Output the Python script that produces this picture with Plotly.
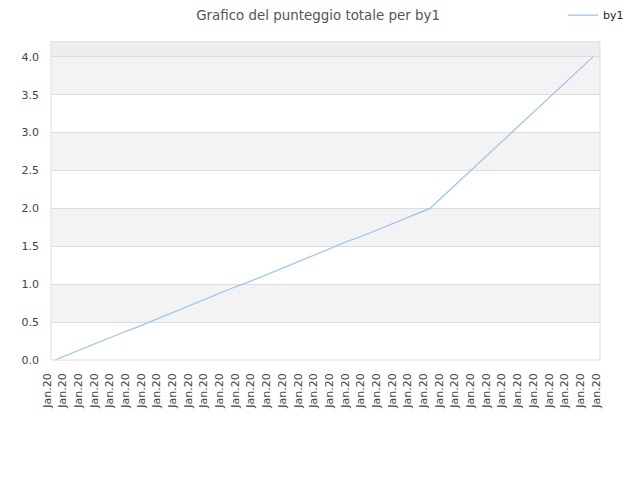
import numpy as np
import plotly.graph_objects as go

# Dati
punteggio = [0.0, 0.09, 0.17, 0.26, 0.35, 0.43, 0.52, 0.61, 0.70, 0.78,
             0.87, 0.96, 1.04, 1.13, 1.22, 1.30, 1.39, 1.48, 1.57, 1.65,
             1.74, 1.83, 1.91, 2.0, 2.2, 2.4, 2.6, 2.8, 3.0, 3.2,
             3.4, 3.6, 3.8, 4.0]
indice = list(range(len(punteggio)))
etichette_x = ["Jan.20"] * 36
tick_y = [0.0, 0.5, 1.0, 1.5, 2.0, 2.5, 3.0, 3.5, 4.0]

x_min, x_max = -0.245, 33.43
y_max = 4.2

fig = go.Figure()
fig.add_trace(go.Scatter(x=indice, y=punteggio, mode='lines', name='by1',
                         line=dict(color='#96c4f2', width=1.2)))

# Bande alternate dello sfondo
bande = []
for i, y0 in enumerate(tick_y[:-1]):
    if i % 2 == 1:
        bande.append(dict(type='rect', xref='paper', yref='y', x0=0, x1=1,
                          y0=y0, y1=y0 + 0.5, fillcolor='#f3f3f3',
                          line_width=0, layer='below'))
bande.append(dict(type='rect', xref='paper', yref='y', x0=0, x1=1,
                  y0=4.0, y1=y_max, fillcolor='#eeeeee', line_width=0, layer='below'))
bande.append(dict(type='rect', xref='paper', yref='paper', x0=0, x1=1,
                  y0=0, y1=1, line=dict(color='#dddddd', width=1),
                  fillcolor='rgba(0,0,0,0)'))

# la pagina ha 8px di margine sul body, quindi i margini sono compensati
fig.update_layout(
    title=dict(text='Grafico del punteggio totale per by1', x=0.4845, xanchor='center',
               y=0.985, yanchor='middle',
               font=dict(family='DejaVu Sans', size=13.4, color='#555555')),
    width=640, height=480,
    margin=dict(l=43, r=48, t=32, b=128),
    paper_bgcolor='white', plot_bgcolor='white',
    font=dict(family='DejaVu Sans', size=11, color='#444444'),
    shapes=bande,
    showlegend=True,
    legend=dict(x=0.9326, y=0.985, xanchor='left', yanchor='middle',
                xref='paper', yref='container', bgcolor='rgba(0,0,0,0)',
                font=dict(size=11, color='#222222')),
    xaxis=dict(range=[x_min, x_max], tickmode='array',
               tickvals=list(np.linspace(x_min, x_max, len(etichette_x))),
               ticktext=etichette_x, tickangle=-90, showgrid=False,
               zeroline=False, ticks='', tickfont=dict(size=11),
               ticklabelstandoff=10, ticklabelshift=-4),
    yaxis=dict(range=[0, y_max], tickvals=tick_y, tickformat='.1f',
               showgrid=True, gridcolor='#dddddd', zeroline=False, ticks='',
               ticklabelstandoff=11),
)

fig.write_html("out.html")
